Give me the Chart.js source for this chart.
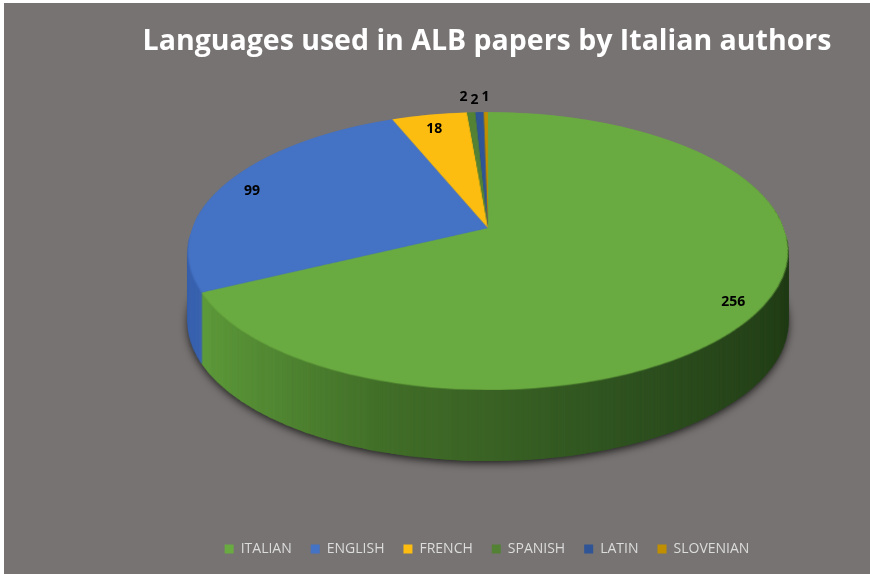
<!DOCTYPE html>
<html lang="en">
<head>
    <meta charset="UTF-8">
    <title>Languages used in ALB papers by Italian authors</title>
    <script src="https://cdn.jsdelivr.net/npm/chart.js"></script>
    <style>
        body {
            margin: 0;
            background: #fff;
        }

        #wrap {
            position: absolute;
            left: 4px;
            top: 3px;
            width: 866px;
            height: 571px;
            background: #777372;
        }
    </style>
</head>
<body>
    <div id="wrap"><canvas id="langChart"></canvas></div>

    <script>
        const languages = ['ITALIAN', 'ENGLISH', 'FRENCH', 'SPANISH', 'LATIN', 'SLOVENIAN'];
        const papers = [256, 99, 18, 2, 2, 1];

        const topColors = ['#6aab41', '#4472c4', '#fdbd10', '#548235', '#2f5597', '#bf8f00'];
        const sideColors = [null, '#3b64b0', '#d9a000', '#3f6527', '#25457c', '#9a7300'];

        // 3d look: where the tilted pie lands on the canvas (canvas px)
        const CX = 484, APEX_Y = 225, TOP_Y = 109, BOT_Y = 387, RX = 300, DEPTH = 71;

        // perspective numbers worked out from the points above
        const UP = APEX_Y - TOP_Y, DOWN = BOT_Y - APEX_Y;
        const C = (UP - DOWN) / (UP + DOWN);
        const P = UP * (1 - C);
        const W_R = RX * Math.sqrt(1 - C * C);

        function project(u, v) {
            const s = 1 / (1 + C * v);
            return { x: CX + W_R * u * s, y: APEX_Y + P * v * s };
        }

        // flat round image -> tilted image, one row at a time
        function warp(src, R, r, W, H) {
            const out = document.createElement('canvas');
            out.width = W;
            out.height = H;
            const o = out.getContext('2d');
            for (let yd = Math.floor(TOP_Y); yd <= Math.ceil(BOT_Y); yd++) {
                const t = yd + 0.5 - APEX_Y;
                const v = t / (P - t * C);
                if (v <= -1 || v >= 1) continue;
                const half = W_R / (1 + C * v);
                const sy = Math.max(0, R + r * v - 0.5);
                o.drawImage(src, R - r, sy, 2 * r, 1, CX - half, yd, 2 * half, 1);
            }
            return out;
        }

        const tiltPie = {
            id: 'tiltPie',
            afterDatasetsDraw(chart) {
                const ctx = chart.ctx;
                const arcs = chart.getDatasetMeta(0).data;
                const x0 = arcs[0].x, y0 = arcs[0].y, r = arcs[0].outerRadius;
                const R = Math.ceil(r) + 2;
                const dpr = chart.currentDevicePixelRatio || 1;

                // take the flat pie Chart.js just drew, then wipe it
                const flat = document.createElement('canvas');
                flat.width = flat.height = 2 * R;
                flat.getContext('2d').drawImage(chart.canvas,
                    (x0 - R) * dpr, (y0 - R) * dpr, 2 * R * dpr, 2 * R * dpr, 0, 0, 2 * R, 2 * R);
                ctx.clearRect(x0 - R, y0 - R, 2 * R, 2 * R);

                // same slices in the darker side colours
                const side = document.createElement('canvas');
                side.width = side.height = 2 * R;
                const sc = side.getContext('2d');
                const g = sc.createLinearGradient(R - r, 0, R + r, 0);
                g.addColorStop(0, '#64a33f');
                g.addColorStop(0.35, '#426f29');
                g.addColorStop(0.7, '#2f5220');
                g.addColorStop(1, '#223d17');
                arcs.forEach((a, i) => {
                    sc.beginPath();
                    sc.moveTo(R, R);
                    sc.arc(R, R, r, a.startAngle, a.endAngle);
                    sc.closePath();
                    sc.fillStyle = i === 0 ? g : sideColors[i];
                    sc.fill();
                });

                const topImg = warp(flat, R, r, chart.width, chart.height);
                const sideImg = warp(side, R, r, chart.width, chart.height);

                ctx.save();
                ctx.shadowColor = 'rgba(0,0,0,0.8)';
                ctx.shadowBlur = 9;
                ctx.shadowOffsetY = 2;
                ctx.drawImage(sideImg, 0, DEPTH, chart.width, chart.height);
                ctx.restore();
                for (let d = DEPTH; d > 0; d--) {
                    ctx.drawImage(sideImg, 0, d, chart.width, chart.height);
                }
                ctx.drawImage(topImg, 0, 0, chart.width, chart.height);

                // value labels
                const total = papers.reduce((s, v) => s + v, 0);
                const labels = arcs.map((a, i) => {
                    const mid = (a.startAngle + a.endAngle) / 2;
                    const outside = papers[i] / total < 0.03;
                    const f = outside ? 1.2 : 0.9;
                    const pt = project(Math.cos(mid) * f, Math.sin(mid) * f);
                    return { text: String(papers[i]), x: pt.x, y: pt.y, outside: outside };
                });

                // spread the tiny ones so they don't sit on each other
                const small = labels.filter(l => l.outside).sort((p, q) => q.x - p.x);
                for (let k = 1; k < small.length; k++) {
                    if (small[k - 1].x - small[k].x < 11) small[k].x = small[k - 1].x - 11;
                }
                small.forEach((l, k) => { if (k % 2 === 1) l.y += 3; });

                ctx.save();
                ctx.font = 'bold 14px "Open Sans"';
                ctx.fillStyle = '#000';
                ctx.textAlign = 'center';
                ctx.textBaseline = 'middle';
                labels.forEach(l => ctx.fillText(l.text, l.x, l.y + 4));
                ctx.restore();
            }
        };

        const ctx = document.getElementById('langChart').getContext('2d');
        const langChart = new Chart(ctx, {
            type: 'pie',
            data: {
                labels: languages,
                datasets: [{
                    data: papers,
                    backgroundColor: topColors,
                    borderWidth: 0
                }]
            },
            options: {
                responsive: true,
                maintainAspectRatio: false,
                animation: false,
                events: [],
                layout: {
                    padding: { left: 100, bottom: 8 }
                },
                plugins: {
                    title: {
                        display: true,
                        text: 'Languages used in ALB papers by Italian authors',
                        color: '#ffffff',
                        font: { family: 'Open Sans', size: 28.5, weight: 'bold' },
                        padding: { top: 22, bottom: 7 }
                    },
                    legend: {
                        position: 'bottom',
                        labels: {
                            color: '#dcdcdc',
                            boxWidth: 9,
                            boxHeight: 9,
                            padding: 19,
                            font: { family: 'Open Sans', size: 14 }
                        }
                    },
                    tooltip: { enabled: false }
                }
            },
            plugins: [tiltPie]
        });
    </script>
</body>
</html>
